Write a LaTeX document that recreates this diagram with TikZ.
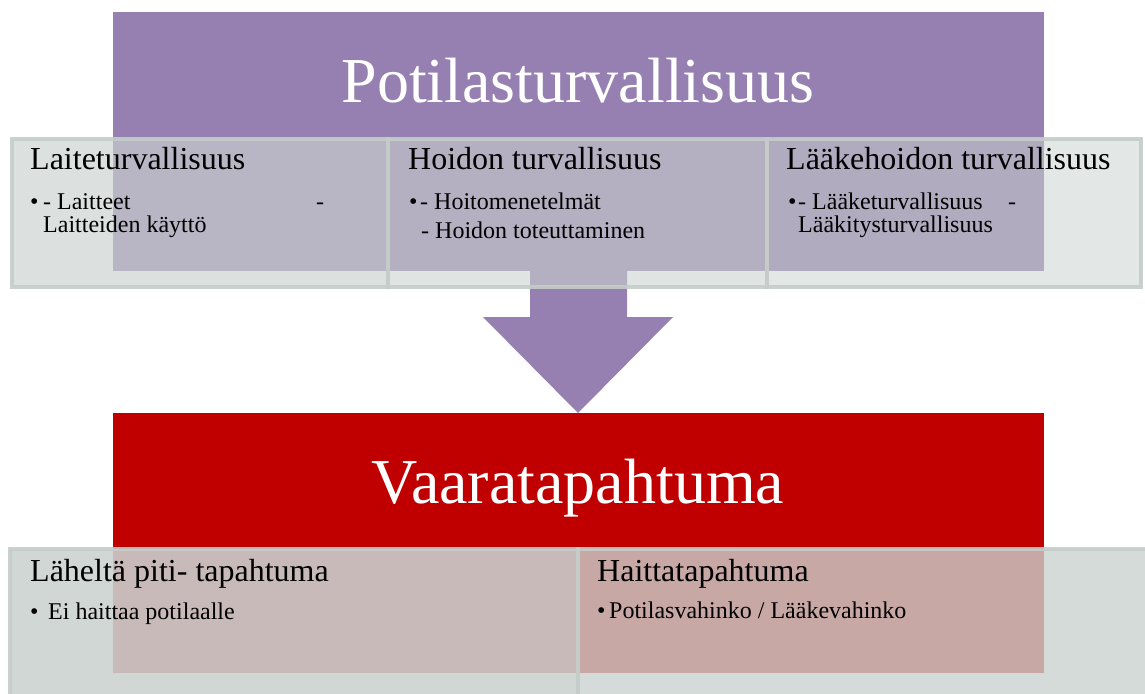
\documentclass[tikz,border=0pt]{standalone}
\usepackage{fontspec}
\setmainfont{Liberation Serif}
\definecolor{vio}{RGB}{150,128,177}
\definecolor{punainen}{RGB}{192,0,0}
\definecolor{boxfill}{RGB}{202,210,207}
\definecolor{boxline}{RGB}{196,205,201}
\begin{document}
\begin{tikzpicture}[x=1pt,y=-1pt,
  band/.style={rectangle, inner sep=0pt, outer sep=0pt, anchor=north west},
  panel/.style={rectangle, draw=boxline, line width=3.5pt, draw opacity=0.9, fill=boxfill, inner sep=0pt, outer sep=0pt, anchor=north west},
  head/.style={anchor=base west, inner sep=0pt, font=\fontsize{32}{38}\selectfont},
  item/.style={anchor=base west, inner sep=0pt, font=\fontsize{24}{28}\selectfont},
  bigtitle/.style={anchor=base, inner sep=0pt, text=white, font=\fontsize{64}{72}\selectfont}]
\useasboundingbox (0,0) rectangle (1145,693);
\clip (0,0) rectangle (1145,693);
% top band
\node[band, fill=vio, minimum width=931.5pt, minimum height=259pt] (p) at (112.5,12) {};
% block arrow
\fill[vio] (530,250) -- (530,317) -- (483,317) -- (578,413) -- (673,317) -- (627,317) -- (627,250) -- cycle;
% bottom band
\node[band, fill=punainen, minimum width=931.5pt, minimum height=260pt] (r) at (112.5,413) {};
\node[bigtitle] (t1) at (578,102) {Potilasturvallisuus};
\node[bigtitle] (t2) at (578,503) {Vaaratapahtuma};
% top panels
\node[panel, fill opacity=0.66, minimum width=376pt, minimum height=148pt] (b1) at (12,139) {};
\node[panel, fill opacity=0.59, minimum width=379pt, minimum height=148pt] (b2) at (388,139) {};
\node[panel, fill opacity=0.53, minimum width=374pt, minimum height=148pt] (b3) at (767,139) {};
% bottom panels
\node[panel, fill opacity=0.89, minimum width=568pt, minimum height=170pt] (c1) at (10,549) {};
\node[panel, fill opacity=0.80, minimum width=580pt, minimum height=170pt] (c2) at (578,549) {};
% texts top
\node[head] (h1) at (30,169) {Laiteturvallisuus};
\node[item] (i1a) at (30,209) {\makebox[13pt][l]{•}- Laitteet};
\node[item] (i1b) at (316,209) {-};
\node[item] (i1c) at (43,232) {Laitteiden käyttö};
\node[head] (h2) at (408,169) {Hoidon turvallisuus};
\node[item] (i2a) at (409,209) {\makebox[11pt][l]{•}- Hoitomenetelmät};
\node[item] (i2b) at (421,238) {- Hoidon toteuttaminen};
\node[head] (h3) at (786,169) {Lääkehoidon turvallisuus};
\node[item] (i3a) at (788,209) {\makebox[10pt][l]{•}- Lääketurvallisuus};
\node[item] (i3b) at (1008,209) {-};
\node[item] (i3c) at (798,232) {Lääkitysturvallisuus};
% texts bottom
\node[head] (h4) at (30,581) {Läheltä piti- tapahtuma};
\node[item] (i4) at (30,619) {\makebox[18pt][l]{•}Ei haittaa potilaalle};
\node[head] (h5) at (597,581) {Haittatapahtuma};
\node[item] (i5) at (597,618) {\makebox[12pt][l]{•}Potilasvahinko / Lääkevahinko};
\end{tikzpicture}
\end{document}
